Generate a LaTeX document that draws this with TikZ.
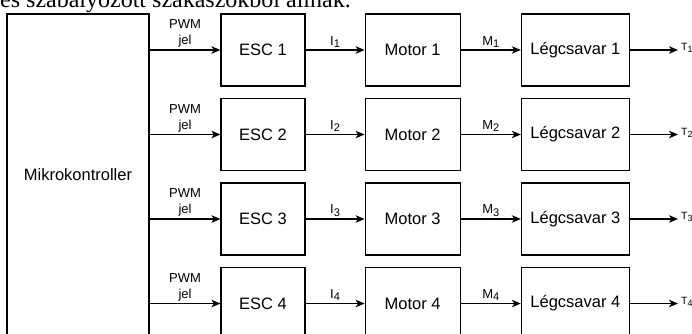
\documentclass[tikz,border=0pt]{standalone}
\usepackage{fontspec}
\setmainfont{Liberation Sans}
\newfontfamily\pageserif{Liberation Serif}
\usepackage{graphicx}
\usepackage{tikz}
\usetikzlibrary{positioning,arrows.meta}
\newcommand{\lowidx}[1]{\raisebox{-0.35ex}{\scalebox{0.85}{#1}}}

\begin{document}
\begin{tikzpicture}[
    x=1pt, y=1pt,
    node distance=59pt,
    blk/.style={rectangle, draw, line width=1.2pt, minimum height=72pt, inner sep=0pt, font=\fontsize{16.5}{19}\selectfont},
    esc/.style={blk, minimum width=84pt},
    mot/.style={blk, minimum width=95pt},
    prop/.style={blk, minimum width=108pt},
    arr/.style={-{Stealth[length=9pt, width=7.5pt, inset=2.5pt]}, line width=1.2pt},
    lbl/.style={font=\fontsize{13}{16}\selectfont, align=center, inner sep=2pt},
    tlbl/.style={font=\fontsize{10.5}{13}\selectfont, inner sep=2.5pt, yshift=2pt}
]
    \useasboundingbox (0,0) rectangle (692,-333);
    \clip (0,0) rectangle (692,-333);

    % last line of the page text, cut off by the crop
    \node[anchor=base west, inner sep=0pt, font=\pageserif\fontsize{24}{28}\selectfont] (cap) at (0,-7) {és szabályozott szakaszokból állnak.};

    \node[blk, minimum width=142pt, minimum height=322pt] (mcu) at (78,-175) {Mikrokontroller};

    % row 1
    \node[esc] (esc1) at (263,-50) {ESC 1};
    \node[mot, right=59pt of esc1] (mot1) {Motor 1};
    \node[prop, right=60pt of mot1] (prop1) {Légcsavar 1};
    \coordinate[right=48pt of prop1] (t1);

    % row 2
    \node[esc, below=11.3pt of esc1] (esc2) {ESC 2};
    \node[mot, right=59pt of esc2] (mot2) {Motor 2};
    \node[prop, right=60pt of mot2] (prop2) {Légcsavar 2};
    \coordinate[right=48pt of prop2] (t2);

    % row 3
    \node[esc, below=11.3pt of esc2] (esc3) {ESC 3};
    \node[mot, right=59pt of esc3] (mot3) {Motor 3};
    \node[prop, right=60pt of mot3] (prop3) {Légcsavar 3};
    \coordinate[right=48pt of prop3] (t3);

    % row 4
    \node[esc, below=11.3pt of esc3] (esc4) {ESC 4};
    \node[mot, right=59pt of esc4] (mot4) {Motor 4};
    \node[prop, right=60pt of mot4] (prop4) {Légcsavar 4};
    \coordinate[right=48pt of prop4] (t4);

    \draw[arr] (mcu.east |- esc1) -- (esc1) node[lbl, above, midway] {PWM\\jel};
    \draw[arr] (esc1) -- (mot1) node[lbl, above, midway] {I\lowidx{1}};
    \draw[arr] (mot1) -- (prop1) node[lbl, above, midway] {M\lowidx{1}};
    \draw[arr] (prop1) -- (t1) node[tlbl, right] {T\lowidx{1}};

    \draw[arr] (mcu.east |- esc2) -- (esc2) node[lbl, above, midway] {PWM\\jel};
    \draw[arr] (esc2) -- (mot2) node[lbl, above, midway] {I\lowidx{2}};
    \draw[arr] (mot2) -- (prop2) node[lbl, above, midway] {M\lowidx{2}};
    \draw[arr] (prop2) -- (t2) node[tlbl, right] {T\lowidx{2}};

    \draw[arr] (mcu.east |- esc3) -- (esc3) node[lbl, above, midway] {PWM\\jel};
    \draw[arr] (esc3) -- (mot3) node[lbl, above, midway] {I\lowidx{3}};
    \draw[arr] (mot3) -- (prop3) node[lbl, above, midway] {M\lowidx{3}};
    \draw[arr] (prop3) -- (t3) node[tlbl, right] {T\lowidx{3}};

    \draw[arr] (mcu.east |- esc4) -- (esc4) node[lbl, above, midway] {PWM\\jel};
    \draw[arr] (esc4) -- (mot4) node[lbl, above, midway] {I\lowidx{4}};
    \draw[arr] (mot4) -- (prop4) node[lbl, above, midway] {M\lowidx{4}};
    \draw[arr] (prop4) -- (t4) node[tlbl, right] {T\lowidx{4}};
\end{tikzpicture}
\end{document}
